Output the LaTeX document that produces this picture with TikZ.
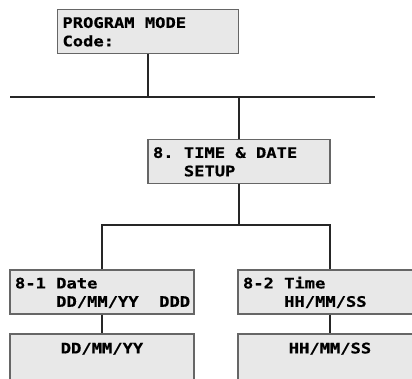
\documentclass[tikz,border=0pt]{standalone}
\usepackage{fontspec}
\usepackage{tikz}
\usetikzlibrary{positioning}

\newfontfamily\lcdfont{DejaVu Sans Mono Bold}[FakeStretch=1.18, FakeBold=0.6]
\newcommand{\lcdtop}{\rule{0pt}{13pt}}
\newcommand{\lcdbot}{\rule[-1.8pt]{0pt}{1.8pt}}
\newcommand{\ws}{\hphantom{0}}

\tikzset{
  lcd/.style={rectangle, draw=black!60, fill=black!9, line width=1.2pt,
    text width=174pt, inner xsep=5pt, inner ysep=0pt, minimum height=44pt,
    align=left, font=\lcdfont\fontsize{14.5}{18.4}\selectfont,
    execute at begin node=\lcdtop, execute at end node=\lcdbot},
  lcdset/.style={lcd, align=center, minimum height=46pt,
    execute at end node=\rule[-20.2pt]{0pt}{20.2pt}},
  wire/.style={line width=1.8pt, black!85}
}

\begin{document}
\begin{tikzpicture}[x=1pt, y=-1pt]
  \useasboundingbox (0,0) rectangle (412,379);

  \node[lcd, text width=171pt] (prog) at (148,31.5) {PROGRAM\ws MODE\\Code:};
  \node[lcd, text width=172pt] (timedate) at (239,161.5) {8.\ws TIME\ws\&\ws DATE\\\ws\ws\ws SETUP};
  \node[lcd] (date) at (102,292) {8-1\ws Date\\\ws\ws\ws\ws DD/MM/YY\ws\ws DDD};
  \node[lcd, right of=date, node distance=228pt] (time) {8-2\ws Time\\\ws\ws\ws\ws HH/MM/SS};
  \node[lcdset, below of=date, node distance=65pt] (dateset) {DD/MM/YY};
  \node[lcdset, below of=time, node distance=65pt] (timeset) {HH/MM/SS};

  \coordinate (busL) at (10,97);
  \coordinate (busR) at (375,97);
  \coordinate (split) at (239,225);

  \draw[wire] (busL) -- (busR);
  \draw[wire] (prog) -- (prog |- busL);
  \draw[wire] (timedate.north) -- (timedate.north |- busL);
  \draw[wire] (timedate) -- (split);
  \draw[wire] (date.north) |- (split) -| (time.north);
  \draw[wire] (date) -- (dateset);
  \draw[wire] (time) -- (timeset);
\end{tikzpicture}
\end{document}
